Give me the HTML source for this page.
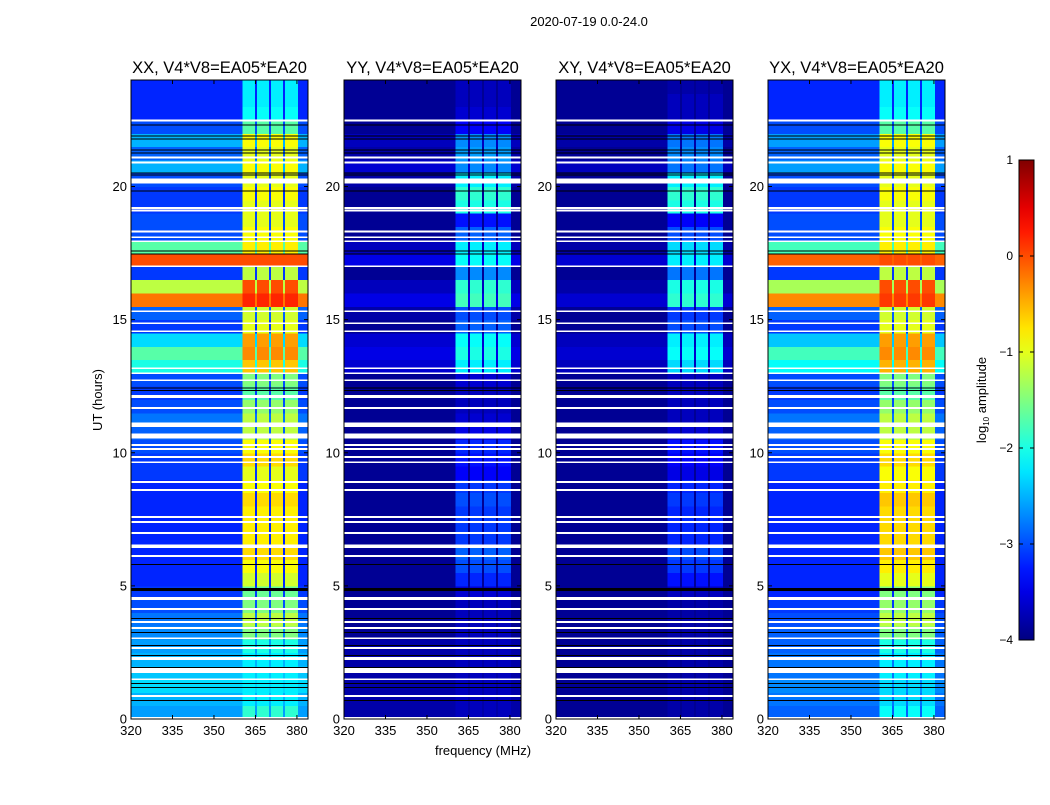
<!DOCTYPE html>
<html><head><meta charset="utf-8"><style>
html,body{margin:0;padding:0;background:#fff;}
svg text{font-family:"Liberation Sans",sans-serif;fill:#000;}
</style></head><body>
<svg id="fig" xmlns="http://www.w3.org/2000/svg" width="1050" height="800" viewBox="0 0 1050 800">
<rect width="1050" height="800" fill="#fff"/>
<text x="589" y="26" font-size="13" text-anchor="middle">2020-07-19 0.0-24.0</text>
<text transform="translate(102,400) rotate(-90)" font-size="13" text-anchor="middle">UT (hours)</text>
<text x="483" y="755" font-size="13" text-anchor="middle">frequency (MHz)</text>
<g id="panels"></g>
<g id="cbar"></g>
</svg>
<script>
// ---- data (log10 amplitude per 0.5 h row, from 0 h upward) ----
const panelTitles = ["XX, V4*V8=EA05*EA20","YY, V4*V8=EA05*EA20","XY, V4*V8=EA05*EA20","YX, V4*V8=EA05*EA20"];
const xxBackground = [-2.6,-2.5,-2.3,-2.4,-2.5,-2.6,-2.7,-2.8,-3.0,-3.1,-3.2,-3.2,-3.2,-3.2,-3.2,-3.2,-3.2,-3.2,-3.1,-3.1,-3.0,-2.9,-2.8,-3.0,-3.1,-3.0,-2.0,-1.7,-2.3,-3.1,-2.9,-0.2,-1.2,-3.1,0.0,-1.7,-3.0,-3.0,-3.1,-3.1,-3.0,-2.5,-2.9,-2.5,-3.0,-3.2,-3.2,-3.2];
const xxBand = [-1.9,-2.2,-2.2,-2.2,-2.2,-2.0,-1.5,-1.2,-1.5,-1.6,-1.1,-0.9,-0.7,-0.8,-0.8,-0.8,-0.7,-0.9,-1.0,-0.7,-0.9,-1.2,-1.2,-1.4,-1.7,-1.5,-0.6,-0.3,-0.4,-1.0,-1.1,0.2,0.0,-1.2,0.0,-0.8,-0.9,-1.0,-1.0,-0.9,-1.0,-0.9,-1.0,-0.9,-1.7,-2.1,-2.2,-2.2];
const yyBackground = [-3.8,-3.8,-3.8,-3.8,-3.8,-3.8,-3.9,-3.9,-3.9,-3.9,-3.9,-3.9,-3.9,-3.9,-3.9,-3.9,-3.9,-3.9,-3.9,-3.9,-3.9,-3.9,-3.9,-3.9,-3.9,-3.9,-3.6,-3.5,-3.6,-3.9,-3.8,-3.5,-3.7,-3.9,-3.5,-3.7,-3.9,-3.9,-3.9,-3.9,-3.8,-3.6,-3.8,-3.7,-3.9,-3.9,-3.9,-3.9];
const yyBand = [-3.7,-3.7,-3.7,-3.7,-3.7,-3.7,-3.7,-3.7,-3.7,-3.6,-3.2,-3.0,-2.9,-3.1,-3.1,-3.1,-3.0,-3.1,-3.4,-3.3,-3.2,-3.5,-3.6,-3.7,-3.7,-3.6,-2.2,-2.0,-2.1,-2.9,-3.0,-1.8,-1.9,-2.7,-2.1,-2.2,-2.9,-3.3,-2.0,-1.9,-2.2,-2.7,-2.6,-2.7,-3.4,-3.6,-3.7,-3.7];
const xyBackground = [-3.9,-3.9,-3.9,-3.9,-3.9,-3.9,-3.9,-3.9,-3.9,-3.9,-3.9,-3.9,-3.9,-3.9,-3.9,-3.9,-3.9,-3.9,-3.9,-3.9,-3.9,-3.9,-3.9,-3.9,-3.9,-3.9,-3.7,-3.6,-3.7,-3.9,-3.9,-3.6,-3.8,-3.9,-3.6,-3.8,-3.9,-3.9,-3.9,-3.9,-3.9,-3.7,-3.9,-3.8,-3.9,-3.9,-3.9,-3.9];
const xyBand = [-3.8,-3.8,-3.8,-3.8,-3.8,-3.8,-3.8,-3.8,-3.8,-3.7,-3.3,-3.1,-3.0,-3.2,-3.2,-3.2,-3.1,-3.2,-3.5,-3.4,-3.3,-3.6,-3.7,-3.7,-3.7,-3.7,-2.3,-2.1,-2.2,-3.0,-3.1,-1.9,-2.0,-2.8,-2.2,-2.3,-3.0,-3.4,-2.0,-1.9,-2.2,-2.8,-2.7,-2.8,-3.5,-3.7,-3.7,-3.8];
const yxBackground = [-2.9,-2.8,-2.7,-2.8,-2.8,-2.9,-2.9,-3.0,-3.1,-3.2,-3.2,-3.2,-3.2,-3.2,-3.2,-3.2,-3.2,-3.2,-3.1,-3.1,-3.0,-2.9,-2.8,-3.0,-3.1,-3.0,-2.1,-1.8,-2.4,-3.1,-2.9,-0.3,-1.3,-3.1,-0.1,-1.8,-3.0,-3.0,-3.1,-3.1,-3.0,-2.6,-2.9,-2.6,-3.0,-3.2,-3.2,-3.2];
const yxBand = [-2.1,-2.3,-2.3,-2.2,-2.2,-2.0,-1.5,-1.2,-1.4,-1.5,-1.0,-0.8,-0.6,-0.7,-0.7,-0.7,-0.6,-0.8,-0.9,-0.7,-0.9,-1.2,-1.2,-1.4,-1.7,-1.5,-0.5,-0.3,-0.4,-1.0,-1.1,0.1,0.0,-1.2,0.0,-0.8,-0.9,-1.0,-1.0,-0.9,-1.0,-0.9,-1.0,-0.9,-1.7,-2.1,-2.2,-2.2];
const bandIntervals = [[360.4,364.8],[365.5,369.9],[370.6,375.0],[375.7,380.3]];
const flaggedRows = [[0.02,0.08],[0.83,0.9],[1.46,1.53],[1.73,1.91],[2.21,2.33],[2.63,2.7],[3.0,3.07],[3.38,3.45],[3.61,3.68],[4.1,4.17],[4.47,4.58],[6.09,6.16],[6.42,6.56],[6.95,7.02],[7.36,7.43],[7.55,7.62],[8.56,8.63],[8.86,8.93],[9.61,9.68],[9.8,9.87],[10.1,10.17],[10.25,10.32],[10.54,10.73],[10.96,11.14],[11.64,11.71],[12.05,12.16],[12.69,12.76],[12.95,13.02],[13.14,13.21],[14.53,14.6],[14.83,14.9],[15.28,15.35],[16.97,17.04],[17.91,17.98],[18.06,18.13],[18.27,18.34],[19.07,19.14],[19.16,19.23],[20.11,20.3],[20.87,20.94],[21.06,21.13],[22.45,22.52]];
const blackLines = [0.71,1.2,1.35,1.95,2.4,2.78,3.26,3.79,4.84,4.88,4.92,5.82,12.35,12.46,17.49,17.6,19.85,20.45,20.53,21.28,21.39,21.8,21.91,22.33];
const yTicks = [0,5,10,15,20];
const xTicks = [320,335,350,365,380];
const cbarTicks = [1,0,-1,-2,-3,-4];
const panelBackgrounds = [xxBackground,yyBackground,xyBackground,yxBackground];
const panelBands = [xxBand,yyBand,xyBand,yxBand];

// ---- layout ----
const panelLeft = [131,344,556,768], panelW = 177, plotTop = 80, plotBottom = 719;
const fMin = 320, fMax = 384, tMin = 0, tMax = 24, rowH = 0.5;
const vMin = -4, vMax = 1;
const NS = "http://www.w3.org/2000/svg";
function yScale(h){ return plotBottom - (h - tMin) / (tMax - tMin) * (plotBottom - plotTop); }
function jet(v){
  let t = Math.max(0, Math.min(1, (v - vMin) / (vMax - vMin)));
  const c = x => Math.round(255 * Math.max(0, Math.min(1, x)));
  const r = c(Math.min(4*t-1.5, -4*t+4.5)), g = c(Math.min(4*t-0.5, -4*t+3.5)), b = c(Math.min(4*t+0.5, -4*t+2.5));
  return `rgb(${r},${g},${b})`;
}
function mk(tag, attrs, parent){ const e = document.createElementNS(NS, tag); for (const k in attrs) e.setAttribute(k, attrs[k]); parent.appendChild(e); return e; }
const panelsG = document.getElementById('panels');
const polNames = ['xx','yy','xy','yx'];
panelLeft.forEach((x0, p) => {
  const xScale = f => x0 + (f - fMin) / (fMax - fMin) * panelW;
  const g = mk('g', {}, panelsG);
  
  
  const heat = mk('g', {'shape-rendering':'crispEdges'}, g);
  
  
  const bg = panelBackgrounds[p], bd = panelBands[p];
  bg.forEach((v, i) => {
    const y1 = yScale(i*rowH + rowH), y0 = yScale(i*rowH);
    const r = mk('rect', {x: x0, y: y1, width: panelW, height: y0 - y1 + 0.5, fill: jet(v)}, heat);
    
    
    bandIntervals.forEach(iv => {
      const c = mk('rect', {x: xScale(iv[0]), y: y1, width: xScale(iv[1]) - xScale(iv[0]), height: y0 - y1 + 0.5, fill: jet(bd[i])}, heat);
      
      
    });
  });
  flaggedRows.forEach(fr => {
    const r = mk('rect', {x: x0, y: yScale(fr[1]), width: panelW, height: Math.max(1.5, yScale(fr[0]) - yScale(fr[1])), fill: '#fff'}, heat);
    
    
  });
  blackLines.forEach(h => {
    const r = mk('rect', {x: x0, y: yScale(h), width: panelW, height: 1, fill: '#000'}, heat);
    
    
  });
  const frame = mk('rect', {x: x0, y: plotTop, width: panelW, height: plotBottom - plotTop, fill: 'none', stroke: '#000', 'stroke-width': 1}, g);
  
  
  const t = mk('text', {x: x0 + panelW/2, y: plotTop - 7, 'font-size': 16.5, 'text-anchor': 'middle'}, g);
  t.textContent = panelTitles[p];
  
  
  yTicks.forEach(v => {
    const y = yScale(v);
    mk('line', {x1: x0, x2: x0 + 4, y1: y, y2: y, stroke: '#000'}, g);
    mk('line', {x1: x0 + panelW - 4, x2: x0 + panelW, y1: y, y2: y, stroke: '#000'}, g);
    const l = mk('text', {x: x0 - 4, y: y + 4.5, 'font-size': 13, 'text-anchor': 'end'}, g);
    l.textContent = v;
    
    
  });
  xTicks.forEach(v => {
    const x = xScale(v);
    mk('line', {x1: x, x2: x, y1: plotBottom, y2: plotBottom - 4, stroke: '#000'}, g);
    mk('line', {x1: x, x2: x, y1: plotTop, y2: plotTop + 4, stroke: '#000'}, g);
    const l = mk('text', {x: x, y: plotBottom + 16, 'font-size': 13, 'text-anchor': 'middle'}, g);
    l.textContent = v;
    
    
  });
});
// colorbar
const cb = document.getElementById('cbar');
const cbX = 1019, cbW = 15, cbTop = 160, cbBot = 640;
const cbY = v => cbTop + (vMax - v) / (vMax - vMin) * (cbBot - cbTop);
const defs = mk('defs', {}, cb);
const grad = mk('linearGradient', {id: 'jetg', x1: 0, y1: 1, x2: 0, y2: 0}, defs);
for (let i = 0; i <= 20; i++) mk('stop', {offset: i/20, 'stop-color': jet(vMin + (vMax - vMin) * i/20)}, grad);
mk('rect', {x: cbX, y: cbTop, width: cbW, height: cbBot - cbTop, fill: 'url(#jetg)', stroke: '#000', 'stroke-width': 1}, cb);
cbarTicks.forEach(v => {
  const y = cbY(v);
  mk('line', {x1: cbX, x2: cbX + 4, y1: y, y2: y, stroke: '#000'}, cb);
  mk('line', {x1: cbX + cbW - 4, x2: cbX + cbW, y1: y, y2: y, stroke: '#000'}, cb);
  const l = mk('text', {x: cbX - 6, y: y + 4, 'font-size': 12, 'text-anchor': 'end'}, cb);
  l.textContent = v < 0 ? '\u2212' + (-v) : String(v);
  
  
});
const cl = mk('text', {transform: 'translate(986,400) rotate(-90)', 'font-size': 13, 'text-anchor': 'middle'}, cb);
cl.innerHTML = 'log<tspan font-size="8" dy="3">10</tspan><tspan dy="-3"> amplitude</tspan>';


</script>
</body></html>
